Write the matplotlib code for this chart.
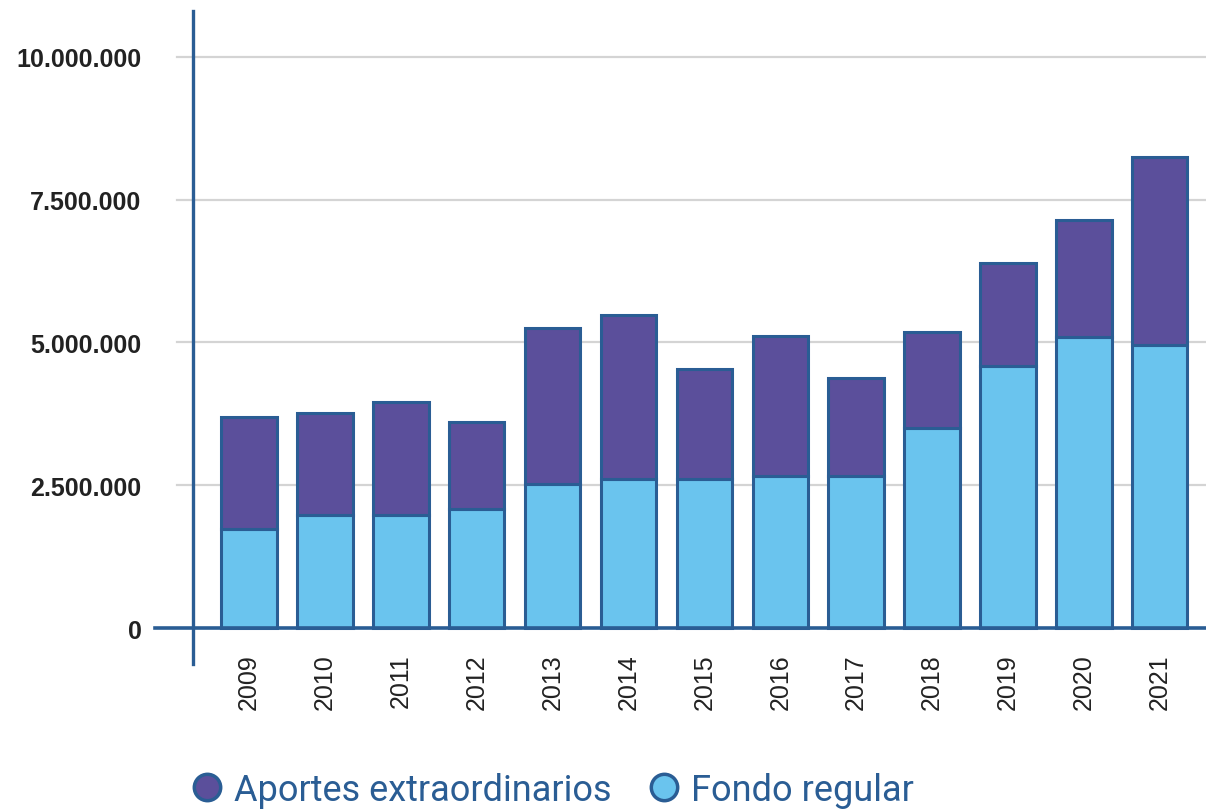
import matplotlib
matplotlib.use("Agg")
import matplotlib.pyplot as plt
from matplotlib.lines import Line2D
import numpy as np

years = ["2009", "2010", "2011", "2012", "2013", "2014", "2015", "2016", "2017", "2018", "2019", "2020", "2021"]
fondo_regular = [1730000, 1980000, 1980000, 2080000, 2520000, 2610000, 2610000, 2660000, 2660000, 3500000, 4590000, 5100000, 4960000]
totales = [3695000, 3765000, 3960000, 3610000, 5250000, 5480000, 4540000, 5110000, 4380000, 5180000, 6390000, 7150000, 8250000]
aportes_extra = [t - f for t, f in zip(totales, fondo_regular)]
yticks = [0, 2500000, 5000000, 7500000, 10000000]
ytick_labels = ["0", "2.500.000", "5.000.000", "7.500.000", "10.000.000"]
series_names = ["Aportes extraordinarios", "Fondo regular"]

C_PURPLE = "#5b4f9b"
C_LIGHT = "#6ac4ee"
C_EDGE = "#2a5d94"
C_GRID = "#d4d4d4"

W, H = 1206, 812
fig = plt.figure(figsize=(W / 100, H / 100), dpi=100)
ax = fig.add_axes([193 / W, 1 - 665 / H, (1206 - 193) / W, (665 - 12) / H])

x = np.arange(len(years))
ax.bar(x, fondo_regular, width=0.73, color=C_LIGHT, edgecolor=C_EDGE, linewidth=2.2, zorder=3)
ax.bar(x, aportes_extra, bottom=fondo_regular, width=0.73, color=C_PURPLE, edgecolor=C_EDGE, linewidth=2.2, zorder=3)

ax.set_xlim(-0.74, 12.61)
ax.set_ylim(-630000, 10805000)

for s in ax.spines.values():
    s.set_visible(False)

ax.axvline(-0.74, color=C_EDGE, lw=2.4, zorder=5, clip_on=False)
left_frac = (177 - 193) / (1206 - 193)
for v in yticks[1:]:
    ax.axhline(v, xmin=left_frac, xmax=1, color=C_GRID, lw=1.6, zorder=1, clip_on=False)
ax.axhline(0, xmin=(155 - 193) / (1206 - 193), xmax=1, color=C_EDGE, lw=2.6, zorder=4, clip_on=False)

ax.set_yticks(yticks)
ax.set_yticklabels(ytick_labels, fontfamily="Liberation Sans", fontweight="bold", fontsize=18, color="#222222")
ax.tick_params(axis="y", length=0, pad=37)
ax.set_xticks(x)
ax.set_xticklabels(years, rotation=90, fontfamily="Liberation Sans", fontsize=18, color="#222222")
ax.tick_params(axis="x", length=0, pad=-8)

handles = [
    Line2D([], [], marker="o", linestyle="none", markersize=19, markerfacecolor=C_PURPLE, markeredgecolor=C_EDGE, markeredgewidth=2.5),
    Line2D([], [], marker="o", linestyle="none", markersize=19, markerfacecolor=C_LIGHT, markeredgecolor=C_EDGE, markeredgewidth=2.5),
]
leg = fig.legend(handles, series_names, loc="center left", bbox_to_anchor=(171 / W, 1 - 791 / H), ncol=2,
                 frameon=False, handletextpad=0.15, columnspacing=0.85, handlelength=1.2, borderaxespad=0,
                 prop={"family": "Roboto", "size": 26})
for t in leg.get_texts():
    t.set_color(C_EDGE)

fig.savefig("out.png", dpi=100)
